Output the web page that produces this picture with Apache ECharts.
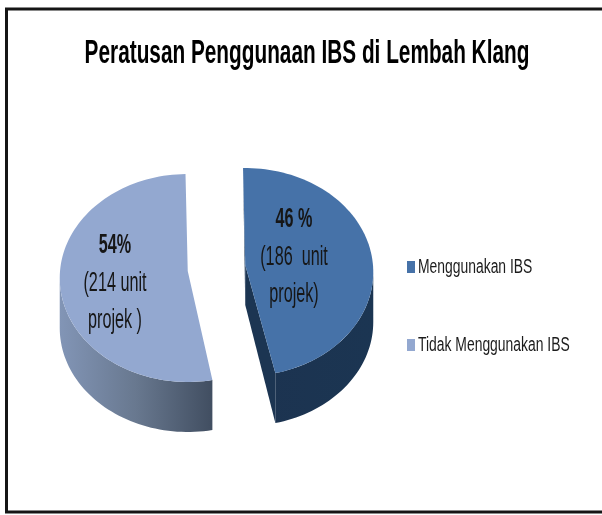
<!DOCTYPE html>
<html><head><meta charset="utf-8">
<style>html,body{margin:0;padding:0;background:#fff;overflow:hidden}#c{width:602px;height:515px}</style>
<script src="https://cdn.jsdelivr.net/npm/echarts@6/dist/echarts.min.js"></script>
</head><body><div id="c"></div>
<script>
const chartTitle = 'Peratusan Penggunaan IBS di Lembah Klang';
const categories = ['Menggunakan IBS', 'Tidak Menggunakan IBS'];
const units = [186, 214];
const percentLabels = ['46 %', '54%'];
const unitLabels = [['(186  unit', 'projek)'], ['(214 unit', 'projek )']];

const topColors = ['#4672A8', '#93A8D0'];
const labelCenters = [[294, 220], [115, 246]];
const legendRows = [267, 345];

const chart = echarts.init(document.getElementById('c'), null, {renderer: 'canvas'});
const CX = 216.5, CY = 275, RX = 128, RY = 104, DEPTH = 50, EXPLODE = 29, ROT = -1, APEX_UP = 7, APEX_DEPTH = 40, PALE_TRIM = 2.5;
const total = units.reduce((a, b) => a + b, 0);
const rad = d => d * Math.PI / 180;

function sliceRange(i) {
  let s = ROT;
  for (let k = 0; k < i; k++) s += units[k] / total * 360;
  return [s, s + units[i] / total * 360];
}
function renderSlice(i) {
  let [a0, a1] = sliceRange(i);
  const mid = rad((a0 + a1) / 2);
  if (i === 1) a0 += PALE_TRIM;
  const cx = CX + EXPLODE * Math.sin(mid);
  const cy = CY - EXPLODE * Math.cos(mid) * RY / RX;
  const pt = (deg, dy) => [cx + RX * Math.sin(rad(deg)), cy - RY * Math.cos(rad(deg)) + (dy || 0)];
  const arc = (from, to, dy) => {
    const out = [], n = Math.max(2, Math.ceil(Math.abs(to - from) / 2));
    for (let j = 0; j <= n; j++) out.push(pt(from + (to - from) * j / n, dy));
    return out;
  };
  const apex = [cx, cy - APEX_UP];
  const children = [];
  const side = (points, colorStops, x, x2) => ({
    type: 'polygon', shape: {points},
    style: {fill: new echarts.graphic.LinearGradient(x, 0, x2, 0, colorStops, true)}
  });
  if (i === 0) {
    const f = Math.max(a0, 90), t = a1;
    const wall = arc(f, t).concat(arc(t, f, DEPTH));
    children.push(side(wall, [{offset: 0, color: '#1C3350'}, {offset: 1, color: '#1B3552'}], cx, cx + RX));
    children.push({type: 'polygon', shape: {points: [apex, pt(a1), pt(a1, DEPTH), [apex[0], apex[1] + APEX_DEPTH]]},
      style: {fill: '#1C3552'}});
    children.push({type: 'polygon', shape: {points: [pt(a0), apex, [apex[0], apex[1] + APEX_DEPTH]]},
      style: {fill: '#1F3A5A'}});
  } else {
    const wall = arc(a0, 270).concat(arc(270, a0, DEPTH));
    const xs = wall.map(p => p[0]);
    children.push(side(wall, [{offset: 0, color: '#8295B6'}, {offset: 0.5, color: '#68788F'}, {offset: 1, color: '#414E61'}],
      Math.min(...xs), Math.max(...xs)));
  }
  children.push({type: 'polygon', shape: {points: [apex].concat(arc(a0, a1))}, style: {fill: topColors[i]}});
  const [lx, ly] = labelCenters[i];
  const txt = (text, y, weight) => ({
    type: 'text', x: lx, y, scaleX: 0.6,
    style: {text, fontFamily: 'Liberation Sans', fontSize: 27, fontWeight: weight, fill: '#161616', align: 'center', verticalAlign: 'middle'}
  });
  children.push(txt(percentLabels[i], ly, 'bold'));
  children.push(txt(unitLabels[i][0], ly + 38, 'normal'));
  children.push(txt(unitLabels[i][1], ly + 75, 'normal'));
  return {type: 'group', children};
}

const legendGraphics = [];
categories.forEach((name, i) => {
  legendGraphics.push({type: 'rect', silent: true, shape: {x: 407, y: legendRows[i] - 6, width: 8, height: 12}, style: {fill: topColors[i]}});
  legendGraphics.push({type: 'text', silent: true, x: 418, y: legendRows[i], scaleX: 0.695,
    style: {text: name, fontFamily: 'Liberation Sans', fontSize: 20, fill: '#1c1c1c', align: 'left', verticalAlign: 'middle'}});
});

chart.setOption({
  animation: false,
  backgroundColor: '#fff',
  graphic: [
    {type: 'rect', silent: true, shape: {x: 6.5, y: 9, width: 640, height: 503}, style: {fill: 'none', stroke: '#151515', lineWidth: 3}},
    {type: 'text', silent: true, x: 307, y: 54, scaleX: 0.63,
     style: {text: chartTitle, fontFamily: 'Liberation Sans', fontWeight: 'bold', fontSize: 33, fill: '#000', align: 'center', verticalAlign: 'middle'}}
  ].concat(legendGraphics),
  series: categories.map((name, i) => ({
    type: 'custom', name, coordinateSystem: 'none',
    itemStyle: {color: topColors[i]},
    data: [units[i]],
    renderItem: () => renderSlice(i)
  }))
});
</script></body></html>
